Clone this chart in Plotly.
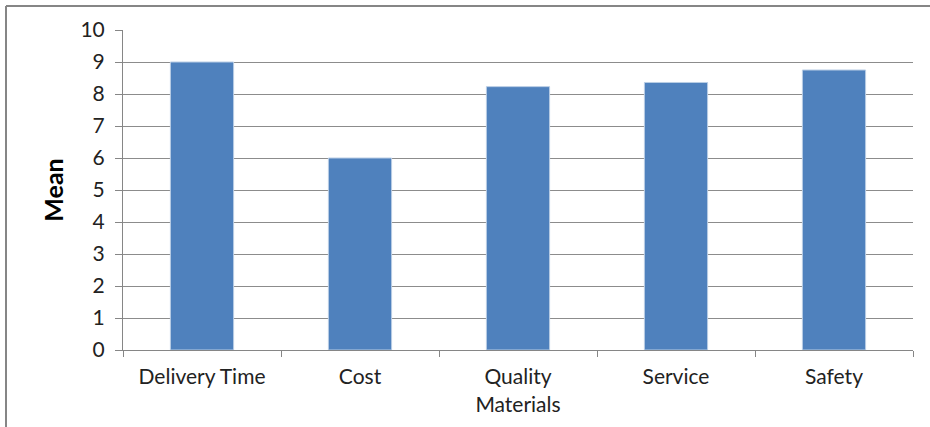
import plotly.graph_objects as go

# Mean rating per supplier-selection criterion
categories = ["Delivery Time", "Cost", "Quality<br>Materials", "Service", "Safety"]
means = [9.0, 6.0, 8.23, 8.36, 8.75]
y_ticks = list(range(0, 11))

W, H = 930, 427
L, R, T, B = 123, 17, 30, 77
pw, ph = W - L - R, H - T - B

def px_x(x):
    return (x - L) / pw

def px_y(y):
    return (H - B - y) / ph

fig = go.Figure(
    go.Bar(
        x=categories,
        y=means,
        width=0.4,
        marker=dict(color="#4F81BD", line=dict(color="#B9CDE5", width=1)),
        hoverinfo="x+y",
    )
)

font_family = "Lato, 'Open Sans', sans-serif"

fig.update_layout(
    width=W,
    height=H,
    margin=dict(l=L, r=R, t=T, b=B),
    paper_bgcolor="white",
    plot_bgcolor="white",
    showlegend=False,
    font=dict(family=font_family, size=16, color="#222222"),
    bargap=0.6,
    xaxis=dict(
        showgrid=False,
        showline=True,
        linecolor="#868686",
        linewidth=1,
        ticks="outside",
        ticklen=6,
        tickcolor="#868686",
        tickson="boundaries",
        ticklabelstandoff=8,
        tickfont=dict(size=21, family=font_family, color="#222222"),
        fixedrange=True,
    ),
    yaxis=dict(
        range=[0, 10],
        tickvals=y_ticks,
        showgrid=True,
        gridcolor="#8C8C8C",
        gridwidth=1,
        showline=True,
        linecolor="#868686",
        linewidth=1,
        ticks="outside",
        ticklen=7,
        tickcolor="#868686",
        ticklabelstandoff=6,
        tickfont=dict(size=21, family=font_family, color="#222222"),
        title=dict(
            text="<b>Mean</b>",
            font=dict(size=25, family=font_family, color="#000000"),
            standoff=9,
        ),
        zeroline=False,
        fixedrange=True,
    ),
    shapes=[
        # chart-area frame (top and left edges)
        dict(type="line", xref="paper", yref="paper",
             x0=px_x(6), x1=px_x(W + 5), y0=px_y(6), y1=px_y(6),
             line=dict(color="#868686", width=2)),
        dict(type="line", xref="paper", yref="paper",
             x0=px_x(6), x1=px_x(6), y0=px_y(6), y1=px_y(H + 5),
             line=dict(color="#868686", width=2)),
    ],
)

fig.write_html("out.html")
